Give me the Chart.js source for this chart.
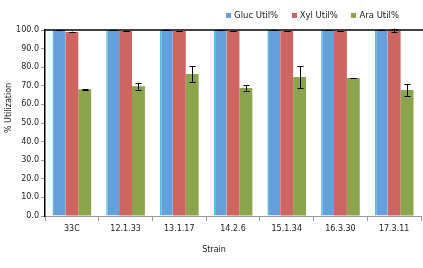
<!DOCTYPE html>
<html><head><meta charset="utf-8">
<script src="https://cdn.jsdelivr.net/npm/chart.js@4/dist/chart.umd.min.js"></script>
<style>html,body{margin:0;padding:0;background:#fff}#wrap{width:423px;height:268px;position:relative}</style>
</head><body><div id="wrap"><canvas id="c" width="423" height="268"></canvas></div>
<script>
const strains = ["33C","12.1.33","13.1.17","14.2.6","15.1.34","16.3.30","17.3.11"];
const glucUtil = [100,100,100,100,100,100,100];
const glucErr = [0.2,0.2,0.2,0.2,0.2,0.2,0.2];
const xylUtil = [98.9,99.5,99.4,99.4,99.4,99.4,99.8];
const xylErr = [0.2,0.2,0.2,0.2,0.2,0.2,1.0];
const araUtil = [68.1,69.8,76.3,68.8,74.7,74.2,67.7];
const araErr = [0.1,1.9,4.2,1.5,5.9,0.1,3.0];
const yTicks = [0,10,20,30,40,50,60,70,80,90,100];
const xTitle = 'Strain';
const yTitle = '% Utilization';

const FONT = "'DejaVu Sans', Verdana, sans-serif";

const errorBars = {
  id:'errorBars',
  afterDatasetsDraw(chart){
    const ctx = chart.ctx, ys = chart.scales.y;
    ctx.save();
    ctx.strokeStyle = '#000'; ctx.lineWidth = 1;
    chart.data.datasets.forEach((ds,i)=>{
      const meta = chart.getDatasetMeta(i);
      meta.data.forEach((bar,j)=>{
        const v = ds.data[j], e = ds.errors[j];
        const x = Math.round(bar.x)+0.5;
        const y1 = ys.getPixelForValue(v+e), y2 = ys.getPixelForValue(v-e);
        ctx.beginPath();
        ctx.moveTo(x,y1); ctx.lineTo(x,y2);
        ctx.moveTo(x-3,Math.round(y1)+0.5); ctx.lineTo(x+3,Math.round(y1)+0.5);
        ctx.moveTo(x-3,Math.round(y2)+0.5); ctx.lineTo(x+3,Math.round(y2)+0.5);
        ctx.stroke();
      });
    });
    ctx.restore();
  }
};
const decorations = {
  id:'decorations',
  afterDraw(chart){
    const a = chart.chartArea, ctx = chart.ctx;
    ctx.save();
    // top border
    ctx.strokeStyle='#000'; ctx.lineWidth=1.5;
    ctx.beginPath(); ctx.moveTo(a.left, a.top); ctx.lineTo(423, a.top); ctx.stroke();
    // axis titles
    ctx.fillStyle = '#222';
    ctx.font = "8px " + FONT;
    ctx.textAlign = 'center'; ctx.textBaseline = 'middle';
    ctx.fillText(xTitle, 214, 250);
    ctx.translate(8.5, 108); ctx.rotate(-Math.PI/2);
    ctx.fillText(yTitle, 0, 0);
    ctx.restore();
    // legend
    ctx.save();
    ctx.font = "8.5px " + FONT;
    ctx.textBaseline = 'middle'; ctx.textAlign = 'left';
    const ds = chart.data.datasets;
    const box = 5, gap = 3, itemGap = 13.5, y = 15.8;
    let total = 0;
    const widths = ds.map(d => ctx.measureText(d.label).width);
    widths.forEach((w,i)=>{ total += box + gap + w + (i<ds.length-1?itemGap:0); });
    let x = 399 - total;
    ds.forEach((d,i)=>{
      ctx.fillStyle = d.backgroundColor;
      ctx.fillRect(Math.round(x), Math.round(y-box/2), box, box);
      ctx.fillStyle = '#222';
      ctx.fillText(d.label, x+box+gap, y);
      x += box + gap + widths[i] + itemGap;
    });
    ctx.restore();
  }
};

new Chart(document.getElementById('c'), {
  type:'bar',
  data:{
    labels: strains,
    datasets:[
      {label:'Gluc Util%', data:glucUtil, errors:glucErr, backgroundColor:'#66A0DC', borderColor:'#4CC3E2', borderWidth:{left:1.5,top:0,right:0,bottom:0}, borderSkipped:false},
      {label:'Xyl Util%', data:xylUtil, errors:xylErr, backgroundColor:'#CD6560', borderWidth:0},
      {label:'Ara Util%', data:araUtil, errors:araErr, backgroundColor:'#8AA54B', borderWidth:0}
    ]
  },
  options:{
    responsive:false, animation:false,
    layout:{padding:{left:0,right:2,top:30,bottom:0}},
    datasets:{bar:{categoryPercentage:0.72, barPercentage:1.0}},
    plugins:{
      legend:{display:false},
      tooltip:{enabled:false}
    },
    scales:{
      x:{
        grid:{offset:true, drawOnChartArea:false, drawTicks:true, tickLength:5, color:'#999'},
        border:{color:'#999', width:1},
        ticks:{color:'#222', font:{family:FONT,size:8}, padding:3, maxRotation:0},
        afterFit(s){ s.height = 52; }
      },
      y:{
        min:0, max:100,
        afterBuildTicks(s){ s.ticks = yTicks.map(v=>({value:v})); },
        grid:{drawOnChartArea:false, drawTicks:true, tickLength:4, color:'#999'},
        border:{color:'#000', width:1.5},
        ticks:{color:'#222', font:{family:FONT,size:8}, padding:2, callback:v=>v.toFixed(1)},
        afterFit(s){ s.width = 45; }
      }
    }
  },
  plugins:[errorBars, decorations]
});
</script>
</body></html>
